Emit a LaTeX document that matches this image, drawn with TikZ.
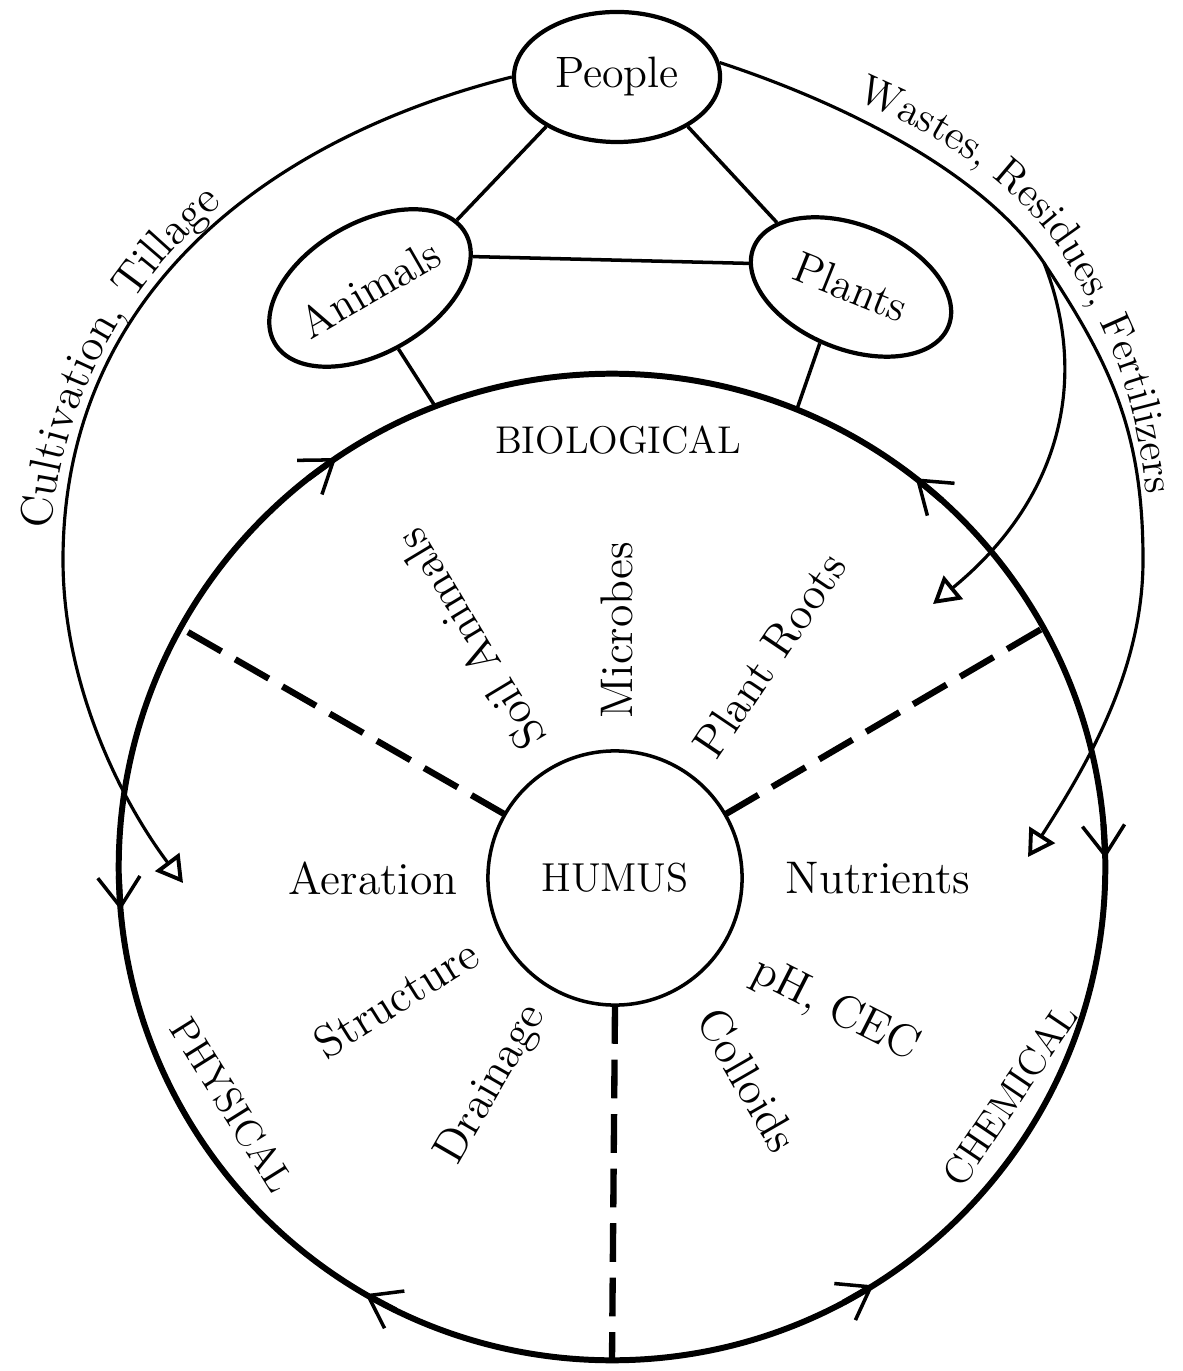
\documentclass[tikz,border=0pt]{standalone}
\usepackage{tikz}
\usetikzlibrary{shapes, arrows.meta, positioning, decorations.text}
\tikzstyle{blob} = [draw, ellipse, line width=1.2pt, inner sep=0, font=\fontsize{12.5}{14}\selectfont]
\tikzstyle{link} = [-, line width=1pt]
\tikzstyle{ring} = [draw, circle, inner sep=0, outer sep=0]
\tikzstyle{spoke} = [line width=1.8pt, dash pattern=on 11pt off 4.5pt]
\tikzstyle{flow} = [line width=1.7pt, -{Straight Barb[length=8.5pt, width=12pt, line width=1pt]}]
\tikzstyle{feed} = [line width=0.9pt, -{Triangle[open, length=7.5pt, width=8.5pt, line width=1.1pt]}]
\tikzstyle{item} = [font=\fontsize{13}{15}\selectfont]
\tikzstyle{realm} = [font=\fontsize{11}{13}\selectfont]
\def \lbl {\fontsize{12.8}{14}\selectfont}
\def \lbr {\fontsize{12}{14}\selectfont}

\begin{document}
\begin{tikzpicture}[x=0.01cm, y=-0.01cm]
      \useasboundingbox (0,0) rectangle (1182,1371);
      \node[ring, line width=1.7pt, minimum size=9.86cm] (soil) at (612,867) {};
      \node[ring, line width=1pt, minimum size=2.54cm, font=\fontsize{11.5}{13}\selectfont] (humus) at (615,878) {HUMUS};
      \node[blob, minimum width=2.06cm, minimum height=1.3cm] (people) at (617,77) {People};
      \node[blob, rotate=30, minimum width=2.2cm, minimum height=1.3cm] (animals) at (370,288) {Animals};
      \node[blob, rotate=-22, minimum width=2.1cm, minimum height=1.24cm] (plants) at (851,287) {Plants};
      \draw[link] (people.-145) -- (animals.8);
      \draw[link] (people.-35) -- (plants.161);
      \draw[link] (animals.-13) -- (plants.189);
      \draw[link] (animals.-95) -- (soil.111);
      \draw[link] (plants.-97) -- (soil.68);
      \draw[spoke] (humus.150) -- (soil.151);
      \draw[spoke] (humus.30) -- (soil.29);
      \draw[spoke] (humus.south) -- (soil.south);
      \draw[flow] (soil.128) -- (soil.124);
      \draw[flow] (soil.48) -- (soil.52);
      \draw[flow] (soil.181) -- (soil.185);
      \draw[flow] (soil.5) -- (soil.1);
      \draw[flow] (soil.244) -- (soil.240);
      \draw[flow] (soil.298) -- (soil.302);
      \coordinate (tillend) at (183,883);
      \coordinate (fork) at (1044,263);
      \coordinate (dropin) at (933,604);
      \coordinate (dropout) at (1028,857);
      \draw[feed] (people.west) .. controls (265,139) and (63,296) .. (63,560) .. controls (63,680) and (117,795) .. (tillend);
      \draw[link, line width=0.9pt] (people.8) .. controls (843,103) and (983,172) .. (fork);
      \draw[feed] (fork) .. controls (1090,380) and (1060,500) .. (dropin);
      \draw[feed] (fork) .. controls (1110,363) and (1143,430) .. (1143,560) .. controls (1143,670) and (1087,765) .. (dropout);
      \path[decorate, decoration={text along path, text={|\lbl|Cultivation, Tillage}, text align={left indent=0.5cm}}] (49,580) .. controls (49,296) and (258,124) .. (512,62);
      \path[decorate, decoration={text along path, text={|\lbr|Wastes, Residues, Fertilizers}, text align={left indent=1.42cm}}] (722,55) .. controls (848,87) and (998,152) .. (1060,250) .. controls (1122,352) and (1150,430) .. (1150,580);
      \node[realm] (bio) at (618,440) {BIOLOGICAL};
      \node[realm, rotate=-58] (phys) at (232,1105) {PHYSICAL};
      \node[realm, rotate=56] (chem) at (1010,1095) {CHEMICAL};
      \node[item, rotate=121] (soilanimals) at (470,640) {Soil Animals};
      \node[item, rotate=90] (microbes) at (617,630) {Microbes};
      \node[item, rotate=56] (roots) at (770,655) {Plant Roots};
      \node[item] (aeration) at (373,878) {Aeration};
      \node[item] (nutrients) at (878,878) {Nutrients};
      \node[item, rotate=32] (structure) at (396,998) {Structure};
      \node[item, rotate=60] (drainage) at (492,1085) {Drainage};
      \node[item, rotate=-27] (phcec) at (835,1010) {pH, CEC};
      \node[item, rotate=-60] (colloids) at (748,1080) {Colloids};
    \end{tikzpicture}
\end{document}
